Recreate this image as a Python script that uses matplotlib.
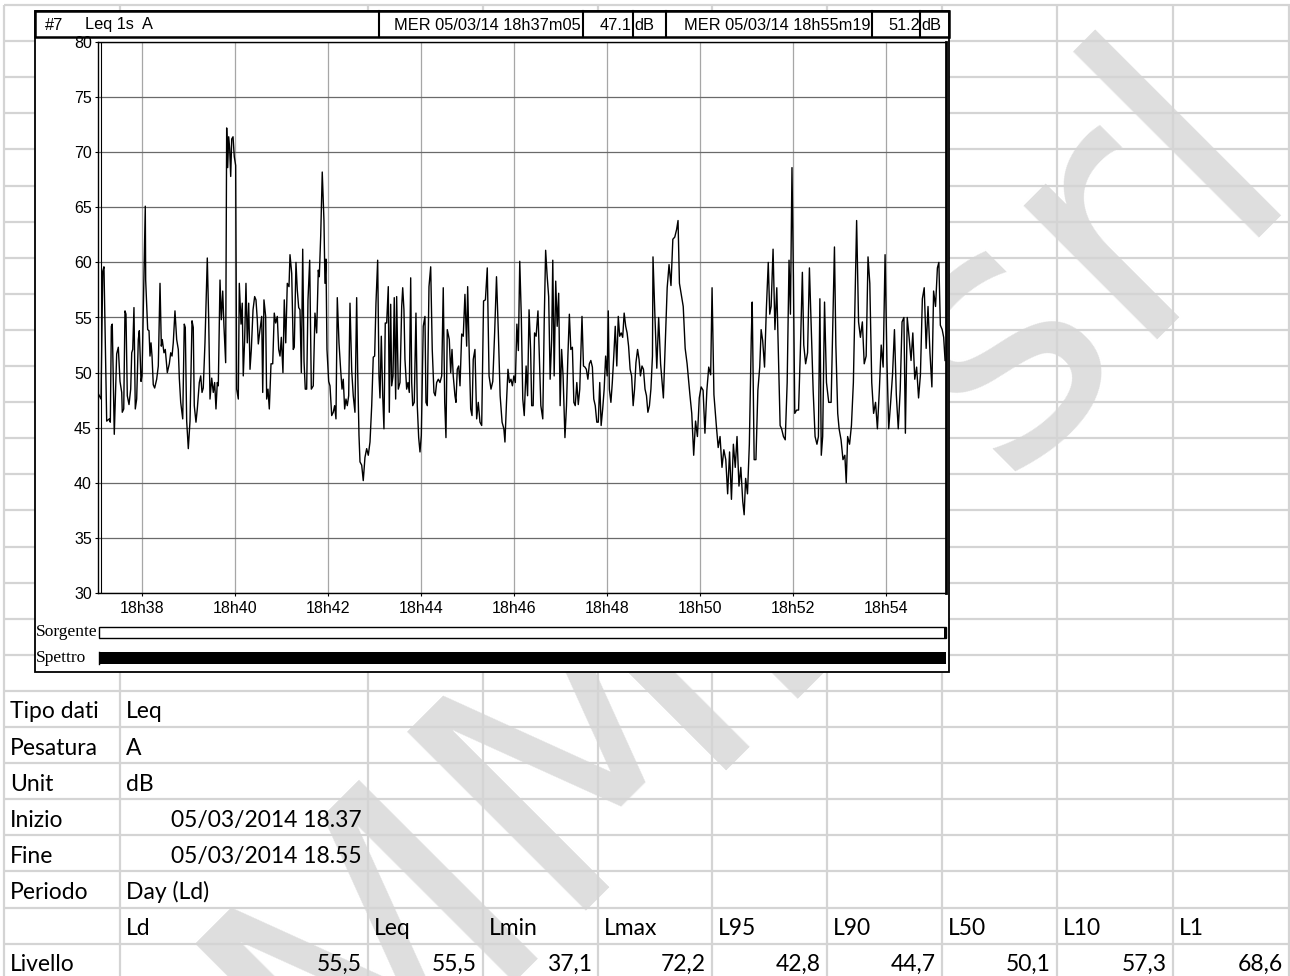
import matplotlib
matplotlib.use("Agg")
import matplotlib.pyplot as plt
from matplotlib.patches import Rectangle

# ---------------- data ----------------
# seconds after 18:37:03 (left edge of the time axis), Leq 1s A in dB
t_sec = [1.0, 3.9, 6.1, 7.7, 11.2, 14.6, 15.9, 17.2, 18.4, 21.0, 24.1, 26.2, 28.4, 30.6, 31.3,
         33.2, 34.8, 36.1, 37.8, 40.0, 42.2, 43.5, 44.8, 46.4, 48.1, 49.9, 52.0, 53.3, 55.5,
         56.8, 61.0, 61.5, 64.1, 65.8, 67.1, 68.4, 69.7, 71.3, 73.1, 75.7, 77.8, 80.0, 81.7,
         82.9, 85.1, 86.8, 89.4, 92.0, 93.8, 95.5, 97.1, 99.3, 101.5, 103.6, 104.9, 106.7,
         109.3, 111.3, 112.6, 114.4, 116.5, 118.7, 121.3, 122.9, 124.2, 126.4, 128.1, 130.7,
         132.5, 134.2, 135.8, 138.0, 139.3, 141.0, 142.8, 144.5, 146.7, 148.7, 150.5, 152.2,
         153.9, 155.2, 157.4, 159.1, 160.9, 162.5, 164.7, 166.0, 167.3, 168.6, 169.9, 171.2,
         172.5, 174.2, 175.8, 177.6, 178.9, 181.0, 182.3, 184.5, 186.1, 187.4, 189.2, 190.9,
         192.6, 194.4, 196.1, 197.8, 200.0, 202.1, 203.8, 205.5, 206.8, 209.0, 211.2, 212.5,
         214.1, 216.3, 217.6, 219.3, 221.0, 223.2, 225.4, 227.4, 229.2, 231.3, 233.1, 234.8,
         236.5, 238.6, 240.3, 242.2, 244.2, 246.4, 247.7, 249.9, 251.9, 253.2, 255.4, 257.1,
         258.9, 260.6, 262.3, 264.1, 265.8, 267.4, 269.2, 270.9, 273.1, 275.2, 277.7, 279.9,
         282.1, 284.2, 285.5, 287.3, 289.3, 291.5, 292.8, 294.1, 295.4, 297.6, 299.3, 301.5,
         303.5, 305.3, 307.0, 308.7, 310.9, 313.1, 314.8, 316.4, 318.2, 319.9, 321.6, 323.4,
         325.1, 327.3, 329.3, 331.5, 333.7, 335.0, 336.7, 338.0, 340.2, 342.2, 344.4, 346.6,
         348.7, 350.9, 353.1, 355.1, 356.9, 358.6, 360.8, 362.5, 363.8, 365.5, 367.3, 368.9,
         370.6, 372.4, 374.5, 375.8, 377.6, 378.9, 380.6, 382.2, 384.0, 385.3, 387.4, 389.6,
         391.8, 393.1, 394.7, 396.0, 398.2, 399.9, 401.6, 403.4, 404.7, 406.0, 408.0, 410.2,
         411.9, 413.7, 415.4, 417.1, 419.6, 421.8, 423.1, 424.8, 427.0, 429.2, 431.2, 433.4,
         435.1, 436.9, 439.0, 441.2, 443.4, 445.4, 447.3, 448.9, 450.6, 453.2, 455.0, 456.7,
         458.3, 460.5, 461.8, 463.5, 465.3, 467.0, 469.2, 471.2, 473.4, 475.6, 476.9, 479.0,
         480.8, 482.5, 484.1, 486.3, 488.5, 490.6, 492.8, 495.0, 497.4, 499.8, 502.2, 504.5,
         507.0, 509.3, 511.7, 514.1, 516.5, 518.8, 521.3, 523.6, 525.0, 527.0, 528.9, 530.8,
         532.8, 534.6, 536.5, 538.4, 540.4, 542.3, 544.1, 546.1, 548.0, 549.9, 552.3, 554.2,
         556.1, 558.1, 559.5, 561.4, 563.2, 565.2, 567.6, 569.5, 571.3, 573.8, 575.7, 577.5,
         579.5, 581.4, 583.3, 585.3, 586.7, 588.5, 590.5, 592.4, 594.3, 596.2, 598.1, 600.0,
         602.4, 604.4, 606.2, 608.1, 610.0, 612.0, 613.9, 615.7, 617.7, 619.6, 621.5, 623.0,
         624.4, 626.3, 628.2, 630.0, 632.0, 633.9, 635.8, 637.8, 639.6, 641.5, 643.5, 645.4,
         647.3, 649.1, 651.1, 653.0, 654.9, 656.9, 658.3, 659.7, 661.7, 663.5, 665.4, 667.3,
         669.3, 671.2, 673.0, 675.0, 676.9, 678.8, 680.8, 682.6, 684.5, 686.5, 688.4, 690.4,
         692.2, 694.0, 696.1, 698.0, 699.8, 701.8, 703.7, 705.7, 707.6, 709.4, 711.4, 713.3,
         715.3, 716.0, 718.4, 720.9, 723.3, 725.8, 729.4, 734.3, 736.7, 739.2, 741.6, 744.1,
         746.5, 748.3, 750.1, 752.6, 755.0, 757.5, 760.0, 763.6, 766.0, 768.5, 770.9, 773.3,
         775.7, 778.1, 780.6, 783.0, 785.5, 787.9, 790.4, 792.2, 794.6, 797.7, 800.1, 802.5,
         805.0, 807.4, 809.9, 812.3, 814.8, 817.2, 819.7, 822.1, 824.4, 826.9, 829.3, 831.8,
         833.6, 835.5, 837.9, 840.3, 842.8, 844.0, 846.5, 848.8, 851.3, 853.7, 855.5, 857.5,
         859.9, 862.2, 864.7, 866.6, 868.4, 870.9, 873.3, 875.7, 878.1, 880.0, 881.9, 884.3,
         886.6, 889.1, 891.5, 893.3, 895.3, 897.1, 898.9, 901.3, 903.8, 906.2, 908.7, 910.5,
         912.9, 915.4, 917.8, 920.2, 922.6, 925.1, 927.5, 929.4, 931.3, 933.1, 934.9, 937.3,
         939.8, 942.7, 945.8, 947.6, 950.1, 951.9, 954.3, 956.1, 958.6, 961.1, 963.5, 965.3,
         967.1, 969.6, 972.0, 974.5, 976.9, 978.7, 981.2, 983.6, 986.1, 988.5, 991.0, 993.4,
         995.7, 998.2, 1000.6, 1003.1, 1005.5, 1008.0, 1010.4, 1012.9, 1015.4, 1017.8, 1020.1,
         1022.6, 1025.0, 1027.5, 1029.9, 1032.4, 1034.9, 1037.3, 1039.7, 1041.6, 1044.0,
         1046.4, 1048.9, 1051.2, 1053.7, 1056.1, 1058.6, 1061.0, 1063.5, 1065.9, 1068.4,
         1070.8, 1073.3, 1075.8, 1078.0, 1080.5, 1082.9, 1084.8, 1086.7, 1089.1, 1091.0, 1092.8]

leq_db = [48.0, 47.6, 59.2, 59.6, 45.6, 45.8, 45.5, 54.2, 54.4, 44.4, 51.7, 52.3, 49.2, 48.2, 46.4,
          46.7, 55.6, 55.3, 47.9, 47.1, 48.5, 51.8, 52.1, 55.9, 46.7, 47.6, 53.0, 53.8, 49.2,
          49.7, 65.1, 58.4, 53.9, 53.8, 51.5, 52.7, 51.5, 48.9, 48.6, 49.4, 50.6, 58.1, 52.4,
          53.0, 51.8, 52.1, 50.0, 50.8, 51.8, 51.5, 52.7, 55.6, 53.0, 52.1, 49.5, 47.3,
          45.8, 54.4, 54.1, 45.6, 43.1, 45.6, 54.7, 54.1, 47.0, 45.5, 46.7, 49.1,
          49.7, 48.2, 48.6, 52.7, 56.0, 60.4, 54.8, 47.6, 49.5, 48.2, 49.1, 46.7,
          49.1, 48.8, 58.4, 54.8, 57.4, 54.2, 50.9, 72.2, 68.6, 71.4, 70.3, 67.8,
          71.2, 71.4, 69.6, 68.8, 48.5, 47.6, 58.1, 54.4, 56.3, 49.7, 53.0, 58.1,
          52.7, 56.3, 50.3, 52.1, 55.7, 56.9, 56.6, 54.8, 52.6, 53.9, 55.1, 48.2,
          56.6, 55.1, 47.6, 48.5, 46.7, 50.8, 50.8, 55.4, 54.5, 55.1, 52.1, 51.5,
          53.2, 50.0, 56.6, 52.7, 58.1, 57.8, 60.7, 59.0, 52.1, 52.3, 60.0, 57.5,
          55.9, 55.7, 50.0, 61.2, 51.0, 48.5, 48.5, 56.6, 60.2, 48.5, 48.8, 55.4,
          53.6, 59.3, 58.7, 62.4, 68.2, 63.8, 58.1, 60.3, 52.1, 49.2, 48.8, 46.1,
          46.4, 47.0, 45.8, 56.8, 52.7, 50.2, 48.5, 49.4, 46.7, 47.6, 47.0, 47.9,
          56.3, 50.2, 47.9, 46.4, 56.8, 50.2, 44.3, 41.9, 41.6, 40.2, 42.3, 43.1,
          42.5, 43.7, 47.0, 51.4, 51.5, 56.3, 60.2, 49.7, 47.7, 53.3, 47.9, 44.9,
          54.5, 54.5, 57.8, 46.4, 56.2, 48.8, 49.7, 56.8, 47.6, 56.9, 48.5, 49.1,
          56.0, 57.7, 55.7, 51.2, 48.5, 49.1, 48.2, 58.6, 49.1, 47.0, 47.3, 55.4,
          47.0, 44.1, 42.8, 44.3, 54.2, 55.1, 47.3, 47.0, 57.8, 59.6, 52.1, 48.2,
          47.9, 49.1, 49.4, 49.1, 49.7, 57.7, 47.3, 44.1, 53.9, 53.0, 50.0, 52.1,
          49.7, 47.9, 47.3, 50.3, 50.6, 48.8, 53.5, 53.3, 57.1, 52.4, 57.8, 51.5,
          46.7, 46.1, 51.2, 52.1, 45.8, 47.3, 45.5, 45.2, 56.5, 56.6, 59.5, 49.7,
          48.5, 49.2, 53.6, 58.7, 53.6, 47.9, 45.5, 44.9, 43.7, 47.3, 50.3, 49.1,
          49.4, 48.8, 49.7, 49.1, 54.4, 52.0, 60.1, 55.1, 47.6, 46.1, 50.6, 47.9,
          55.7, 52.1, 47.0, 47.0, 53.6, 53.3, 55.6, 51.2, 47.0, 45.8, 54.8, 61.1,
          58.7, 56.9, 49.4, 53.0, 60.2, 49.7, 58.3, 54.2, 57.2, 47.0, 52.1, 49.7,
          44.1, 47.0, 51.5, 55.3, 52.1, 52.3, 47.3, 47.0, 49.1, 47.1, 48.5, 51.8,
          55.1, 50.6, 50.5, 50.3, 49.4, 50.8, 51.1, 50.5, 47.6, 47.0, 45.5, 45.5,
          49.1, 45.2, 46.7, 48.5, 51.5, 49.7, 55.6, 48.5, 47.3, 49.1, 51.5, 54.2,
          50.6, 55.1, 53.3, 53.6, 53.2, 55.4, 54.2, 53.6, 52.4, 50.3, 49.7, 47.0,
          48.5, 50.9, 52.1, 51.2, 49.7, 50.6, 50.3, 48.5, 47.9, 46.4, 47.0, 48.5,
          51.5, 60.5, 55.3, 50.4, 55.0, 50.8, 47.7, 57.7, 59.8, 57.9, 62.1, 62.3,
          63.0, 63.8, 58.1, 57.0, 56.0, 52.2, 50.8, 48.0, 46.3, 42.5, 45.6, 44.2,
          47.7, 48.7, 48.4, 44.5, 48.4, 50.5, 49.8, 57.7, 48.0, 45.2, 43.2, 44.2,
          41.4, 43.0, 42.1, 39.0, 42.8, 38.5, 43.5, 41.4, 44.2, 39.7, 41.4, 38.3,
          37.1, 40.4, 39.0, 43.5, 53.2, 56.4, 42.1, 42.1, 48.4, 50.5, 53.9, 52.9,
          50.5, 55.7, 60.0, 55.3, 56.0, 61.2, 53.9, 57.7, 50.5, 45.2, 44.9, 44.2,
          43.9, 49.1, 60.2, 55.3, 68.6, 58.8, 46.3, 46.6, 46.6, 52.2, 59.1, 52.5,
          50.8, 51.8, 59.5, 53.9, 48.4, 44.2, 43.5, 44.2, 56.7, 42.5, 44.2, 56.4,
          49.1, 47.3, 47.3, 53.2, 61.4, 52.5, 46.3, 44.9, 43.9, 42.1, 42.5, 40.0,
          44.2, 43.5, 45.2, 49.1, 57.4, 63.8, 54.6, 53.2, 54.6, 50.8, 51.5, 60.5,
          58.1, 49.1, 46.3, 47.3, 44.9, 48.4, 52.5, 50.5, 60.7, 51.1, 44.9,
          47.3, 49.8, 53.9, 48.0, 44.9, 48.4, 54.6, 55.0, 44.5, 55.0,
          53.2, 51.1, 53.6, 49.4, 50.5, 47.7, 49.8, 56.7, 57.7, 52.2,
          56.0, 51.8, 48.7, 57.4, 56.0, 59.5, 60.0, 54.3, 53.9, 53.2, 51.1]

axis_start_sec = 37 * 60 + 3      # 18:37:03 at the left edge
axis_span_sec = 1094
tick_minutes = [38, 40, 42, 44, 46, 48, 50, 52, 54]
tick_labels = ["18h38", "18h40", "18h42", "18h44", "18h46", "18h48", "18h50", "18h52", "18h54"]
y_ticks = [30, 35, 40, 45, 50, 55, 60, 65, 70, 75, 80]

header_id = "#7"
header_type = "Leq 1s  A"
cursor1_time = "MER 05/03/14 18h37m05"
cursor1_value = "47.1"
cursor2_time = "MER 05/03/14 18h55m19"
cursor2_value = "51.2"
unit_label = "dB"

info_labels = ["Tipo dati", "Pesatura", "Unit", "Inizio", "Fine", "Periodo"]
info_values = ["Leq", "A", "dB", "05/03/2014 18.37", "05/03/2014 18.55", "Day (Ld)"]
info_is_number = [False, False, False, True, True, False]
stat_names = ["Ld", "Leq", "Lmin", "Lmax", "L95", "L90", "L50", "L10", "L1"]
stat_values = [55.5, 55.5, 37.1, 72.2, 42.8, 44.7, 50.1, 57.3, 68.6]
level_label = "Livello"
watermark = "AEMME srl"

# ---------------- layout ----------------
W, H = 1290, 976
fig = plt.figure(figsize=(W / 100, H / 100), dpi=100)
bg = fig.add_axes([0, 0, 1, 1])
bg.set_xlim(0, W)
bg.set_ylim(H, 0)
bg.axis("off")

SHEET = "Lato"
SANS = "Liberation Sans"
SERIF = "Liberation Serif"

# watermark
bg.text(1305, 192, watermark, rotation=45, rotation_mode="anchor", ha="right",
        va="baseline", fontsize=250, color="#dedede", family="DejaVu Sans", zorder=1)

# spreadsheet grid
col_x = [4, 120, 368, 483, 598, 712, 827, 942, 1057, 1173, 1289]
row_y = [5 + 36.1 * k for k in range(28)]
gc = "#d4d4d4"
for x in col_x:
    bg.plot([x, x], [5, H], color=gc, lw=1.6, zorder=2, solid_capstyle="butt")
for y in row_y:
    bg.plot([4, W], [y, y], color=gc, lw=1.6, zorder=2, solid_capstyle="butt")

# chart frame
bg.add_patch(Rectangle((35, 11), 914, 661, fc="white", ec="black", lw=1.3, zorder=3))
bg.add_patch(Rectangle((35, 11), 914, 26, fc="none", ec="black", lw=1.8, zorder=4))
for x in [379, 583, 633, 666, 872, 920]:
    bg.plot([x, x], [11, 37], color="black", lw=1.5, zorder=4)
hy = 25
hfs = 11.8
bg.text(45, hy, header_id, fontsize=hfs, family=SANS, va="center", zorder=5)
bg.text(85, hy, header_type, fontsize=hfs, family=SANS, va="center", zorder=5)
bg.text(394, hy, cursor1_time, fontsize=hfs, family=SANS, va="center", zorder=5)
bg.text(632, hy, cursor1_value, fontsize=hfs, family=SANS, va="center", ha="right", zorder=5)
bg.text(634, hy, unit_label, fontsize=hfs, family=SANS, va="center", zorder=5)
bg.text(684, hy, cursor2_time, fontsize=hfs, family=SANS, va="center", zorder=5)
bg.text(920, hy, cursor2_value, fontsize=hfs, family=SANS, va="center", ha="right", zorder=5)
bg.text(921, hy, unit_label, fontsize=hfs, family=SANS, va="center", zorder=5)

# Sorgente / Spettro bars
bg.text(36, 632, "Sorgente", fontsize=12.5, family=SERIF, va="center", zorder=5)
bg.add_patch(Rectangle((99, 627), 847, 11, fc="white", ec="black", lw=1.0, zorder=5))
bg.add_patch(Rectangle((943.5, 627), 2.5, 11, fc="black", ec="none", zorder=6))
bg.text(36, 658, "Spettro", fontsize=12.5, family=SERIF, va="center", zorder=5)
bg.plot([98.5, 98.5], [652, 664], color="black", lw=1.0, zorder=5)
bg.add_patch(Rectangle((100, 652), 846, 12, fc="black", ec="none", zorder=5))

# ---------------- time history plot ----------------
ax = fig.add_axes([98 / W, 1 - 593 / H, 848 / W, 551 / H])
ax.plot(t_sec, leq_db, color="black", lw=1.0, zorder=3)
ax.set_xlim(0, axis_span_sec)
ax.set_ylim(30, 80)
ax.set_xticks([m * 60 - axis_start_sec for m in tick_minutes])
ax.set_xticklabels(tick_labels)
ax.set_yticks(y_ticks)
ax.set_yticklabels([str(v) for v in y_ticks])
ax.grid(axis="y", color="#6a6a6a", lw=0.9, zorder=1)
ax.grid(axis="x", color="#a6a6a6", lw=0.9, zorder=1)
for s in ax.spines.values():
    s.set_color("black")
    s.set_linewidth(1.0)
ax.spines["right"].set_linewidth(2.0)
ax.plot([0.003, 0.003], [0, 1], transform=ax.transAxes, color="black", lw=0.8, zorder=4)
ax.tick_params(direction="out", length=2.5, width=0.8, pad=2, labelsize=11.5, colors="black")
ax.tick_params(axis="x", pad=3)
for lab in ax.get_xticklabels() + ax.get_yticklabels():
    lab.set_family(SANS)

# ---------------- spreadsheet table ----------------
tfs = 16.5
def row_base(k):
    return row_y[k] + 36.1 - 8.5

for i, (lab, val, isnum) in enumerate(zip(info_labels, info_values, info_is_number)):
    k = 19 + i
    bg.text(col_x[0] + 6, row_base(k), lab, fontsize=tfs, family=SHEET, va="baseline", zorder=5)
    if isnum:
        bg.text(col_x[2] - 6, row_base(k), val, fontsize=tfs, family=SHEET, va="baseline",
                ha="right", zorder=5)
    else:
        bg.text(col_x[1] + 6, row_base(k), val, fontsize=tfs, family=SHEET, va="baseline", zorder=5)

for j, name in enumerate(stat_names):
    bg.text(col_x[1 + j] + 6, row_base(25), name, fontsize=tfs, family=SHEET, va="baseline", zorder=5)
bg.text(col_x[0] + 6, row_base(26), level_label, fontsize=tfs, family=SHEET, va="baseline", zorder=5)
for j, v in enumerate(stat_values):
    txt = f"{v:.1f}".replace(".", ",")
    bg.text(col_x[2 + j] - 6, row_base(26), txt, fontsize=tfs, family=SHEET, va="baseline",
            ha="right", zorder=5)

fig.savefig("out.png", dpi=100)
